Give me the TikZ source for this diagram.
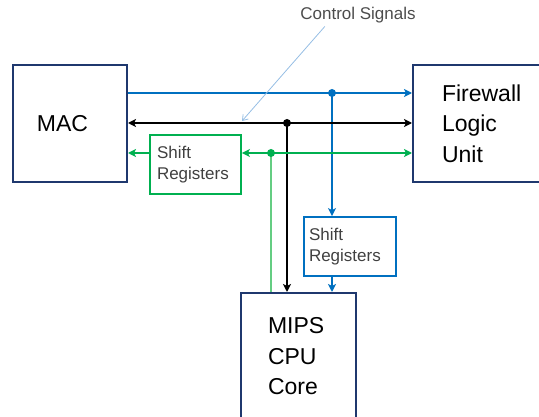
\documentclass[tikz,border=0pt]{standalone}
\usepackage{fontspec}
\setmainfont{Liberation Sans}
\usetikzlibrary{positioning, arrows.meta}
\definecolor{boxnavy}{RGB}{31,56,110}
\definecolor{busblue}{RGB}{0,112,192}
\definecolor{busgreen}{RGB}{0,176,80}
\definecolor{feedgreen}{RGB}{100,205,130}
\definecolor{ctlblue}{RGB}{150,190,228}

\begin{document}
\begin{tikzpicture}[x=1pt,y=-1pt,
        >={Stealth[length=8pt,width=8pt,inset=2pt]},
        block/.style={draw=boxnavy, line width=2pt, inner xsep=0pt, align=left,
            font=\fontsize{23}{30.5}\selectfont},
        regbox/.style={draw, line width=1.8pt, inner xsep=0pt, align=left,
            minimum height=59pt, font=\fontsize{17}{21}\selectfont, text=black!75},
        bus/.style={line width=2pt},
        dot/.style={circle, fill, inner sep=0pt, minimum size=8pt}]
        \path[use as bounding box, clip] (0,0) rectangle (539,417);

        % Draw blocks
        \node[block, minimum width=114pt, minimum height=117pt, text width=66pt] (mac) at (70,123.5) {MAC};
        \node[block, minimum width=148pt, minimum height=117pt, text width=90pt] (fw) at (487,123.5) {Firewall\\Logic\\Unit};
        \node[block, minimum width=115pt, minimum height=127pt, text width=61pt] (mips) at (298.5,356.5) {MIPS\\CPU\\Core};

        % shift registers
        \node[regbox, draw=busgreen, minimum width=91pt, text width=77pt] (sr_green) at (195.5,164.5) {Shift\\Registers};
        \node[regbox, draw=busblue, minimum width=92pt, text width=82pt] (sr_blue) at (350,246.5) {Shift\\Registers};

        % junctions
        \coordinate (j_blue) at (332,93);
        \coordinate (j_black) at (287,123);
        \coordinate (j_green) at (271,153);

        %blue bus
        \draw[bus, busblue, ->] (mac.east |- j_blue) -- (fw.west |- j_blue);
        \draw[bus, busblue, ->] (j_blue) -- (sr_blue.north -| j_blue);
        \draw[bus, busblue, ->] (sr_blue.south -| j_blue) -- (mips.north -| j_blue);
        \node[dot, busblue] at (j_blue) {};

        %black bus
        \draw[bus, black, <->] (mac.east |- j_black) -- (fw.west |- j_black);
        \draw[bus, black, ->] (j_black) -- (mips.north -| j_black);
        \node[dot, black] at (j_black) {};

        %green bus
        \draw[bus, busgreen, <->] (sr_green.east |- j_green) -- (fw.west |- j_green);
        \draw[bus, busgreen, ->] (sr_green.west |- j_green) -- (mac.east |- j_green);
        \draw[feedgreen, line width=1.4pt] (j_green) -- (mips.north -| j_green);
        \node[dot, busgreen] at (j_green) {};

        % Control signals label
        \node[font=\fontsize{17}{20}\selectfont, text=black!70] (ctl) at (358,15) {Control Signals};
        \coordinate (ctl_tip) at (242,121);
        \draw[ctlblue, line width=0.8pt, -{Straight Barb[length=5pt,width=7pt]}] ([xshift=28pt]ctl.south west) -- (ctl_tip);
    \end{tikzpicture}
\end{document}
